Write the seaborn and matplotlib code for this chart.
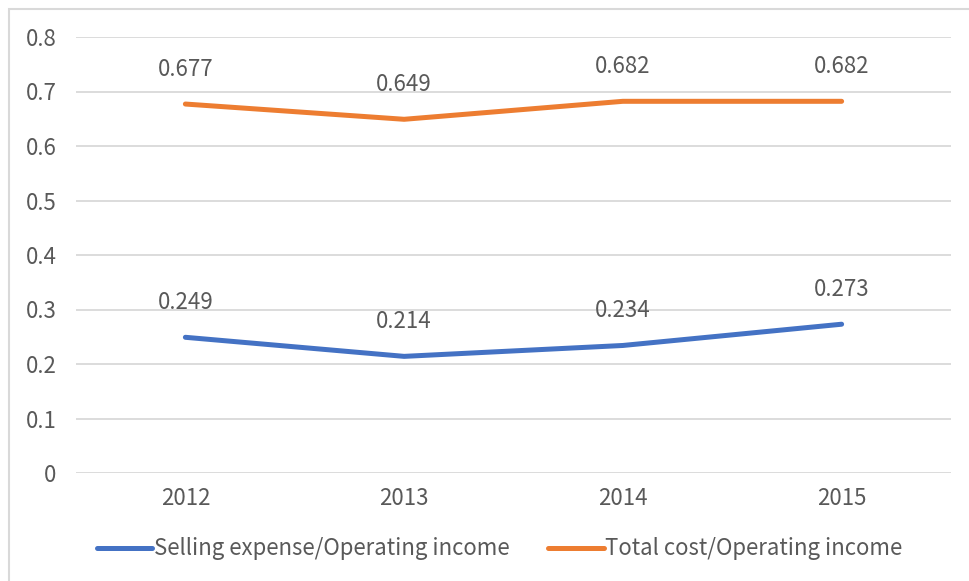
import matplotlib
matplotlib.use("Agg")
import matplotlib.pyplot as plt
import seaborn as sns
import pandas as pd
from matplotlib.patches import Rectangle

years = ["2012", "2013", "2014", "2015"]
selling_ratio = [0.249, 0.214, 0.234, 0.273]
total_cost_ratio = [0.677, 0.649, 0.682, 0.682]
series_names = ["Selling expense/Operating income", "Total cost/Operating income"]
colors = ["#4472C4", "#ED7D31"]

df = pd.DataFrame({
    "year": years * 2,
    "value": selling_ratio + total_cost_ratio,
    "series": [series_names[0]] * 4 + [series_names[1]] * 4,
})

sns.set_style("white")
plt.rcParams['font.family'] = ['Noto Sans CJK SC', 'DejaVu Sans']
text_color = "#595959"
fs = 16

fig = plt.figure(figsize=(9.7, 5.81), dpi=100)
ax = fig.add_axes([76 / 970, 1 - 473 / 581, 875 / 970, 436 / 581])

sns.lineplot(data=df, x="year", y="value", hue="series", palette=colors,
             linewidth=3.6, ax=ax, legend=False, sort=False)
for line in ax.lines:
    line.set_solid_capstyle("round")

# point labels above each point
for vals in (selling_ratio, total_cost_ratio):
    for i, v in enumerate(vals):
        ax.annotate(f"{v:.3f}", (i, v), xytext=(0, 25), textcoords="offset points",
                    ha="center", va="center", fontsize=fs, color=text_color)

ax.set_xlim(-0.5, 3.5)
ax.set_ylim(0, 0.8)
ax.set_yticks([0, 0.1, 0.2, 0.3, 0.4, 0.5, 0.6, 0.7, 0.8])
ax.set_yticklabels(["0", "0.1", "0.2", "0.3", "0.4", "0.5", "0.6", "0.7", "0.8"])
ax.grid(axis="y", color="#D9D9D9", linewidth=1.3)
ax.set_axisbelow(True)
for s in ax.spines.values():
    s.set_visible(False)
ax.tick_params(axis="both", length=0, labelsize=fs, labelcolor=text_color)
ax.tick_params(axis="y", pad=14)
ax.tick_params(axis="x", pad=10)
ax.set_xlabel("")
ax.set_ylabel("")

handles = [plt.Line2D([], [], color=c, linewidth=3.6, solid_capstyle="round") for c in colors]
fig.legend(handles, series_names, loc="center", bbox_to_anchor=(0.515, 1 - 549 / 581),
           ncol=2, frameon=False, fontsize=fs, handlelength=2.5, handletextpad=0.05,
           columnspacing=1.76, labelcolor=text_color)

fig.patches.append(Rectangle((9 / 970, -0.01), 1.0, 1 - 9 / 581 + 0.01,
                             transform=fig.transFigure, fill=False,
                             edgecolor="#D9D9D9", linewidth=1.5))

fig.savefig("out.png", dpi=100)
